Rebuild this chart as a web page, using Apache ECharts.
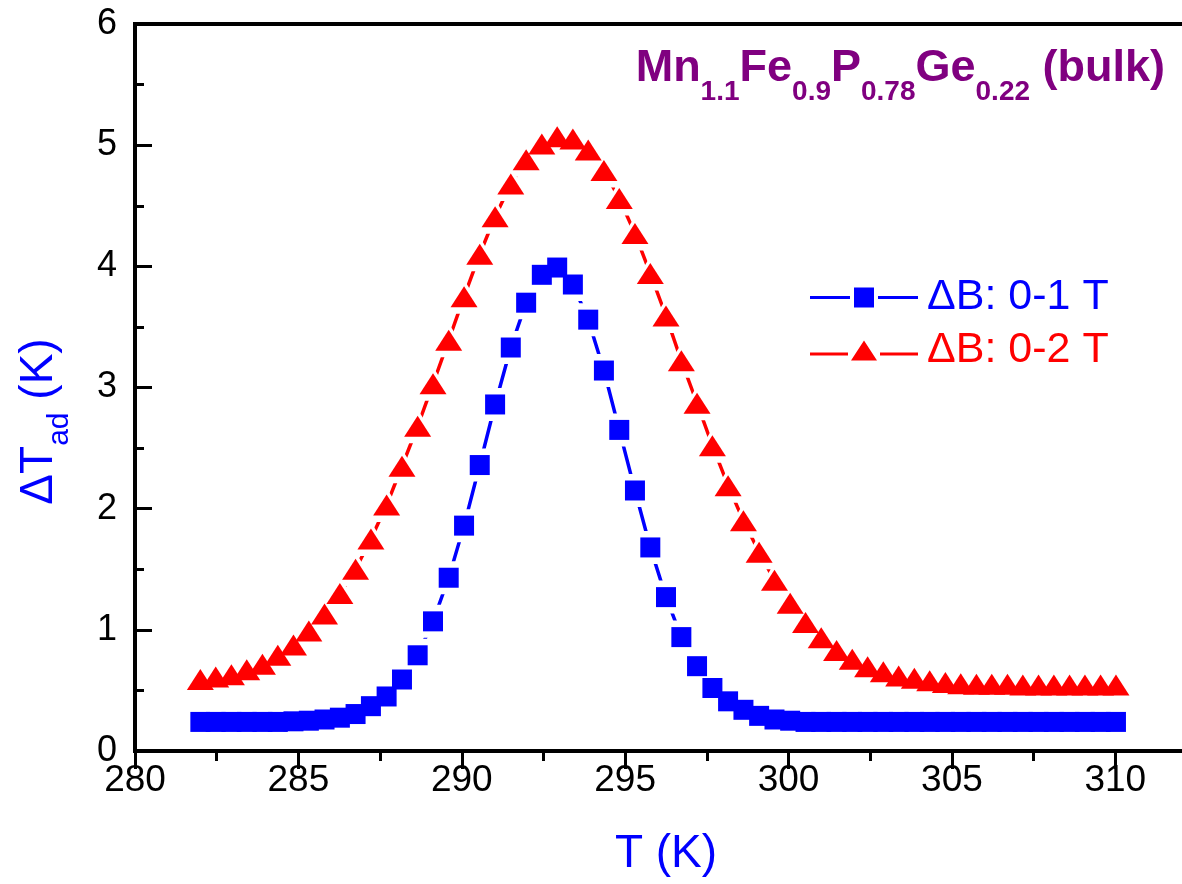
<!DOCTYPE html>
<html>
<head>
<meta charset="utf-8">
<script src="https://cdn.jsdelivr.net/npm/echarts@6/dist/echarts.min.js"></script>
<style>
  html, body { margin: 0; padding: 0; background: #ffffff; }
  #chart { width: 1182px; height: 884px; }
</style>
</head>
<body>
<div id="chart"></div>
<script>
// Sample temperature (K) for each measured point
const temperatures = [
  282.00, 282.47, 282.95, 283.42, 283.90, 284.37, 284.85, 285.32, 285.80, 286.27,
  286.75, 287.22, 287.70, 288.17, 288.65, 289.12, 289.60, 290.07, 290.55, 291.02,
  291.50, 291.97, 292.45, 292.92, 293.40, 293.87, 294.35, 294.82, 295.30, 295.77,
  296.25, 296.72, 297.20, 297.67, 298.15, 298.62, 299.10, 299.57, 300.05, 300.52,
  301.00, 301.47, 301.95, 302.42, 302.90, 303.37, 303.85, 304.32, 304.80, 305.27,
  305.75, 306.22, 306.70, 307.17, 307.65, 308.12, 308.60, 309.07, 309.55, 310.02
];

// Adiabatic temperature change (K) for a 0-1 T field change
const deltaT_0to1T = [
  0.24, 0.24, 0.24, 0.24, 0.24, 0.24, 0.245, 0.25, 0.26, 0.275,
  0.305, 0.37, 0.45, 0.59, 0.79, 1.07, 1.43, 1.86, 2.36, 2.86,
  3.33, 3.70, 3.93, 3.99, 3.85, 3.56, 3.14, 2.65, 2.15, 1.68,
  1.27, 0.94, 0.70, 0.52, 0.41, 0.34, 0.29, 0.26, 0.25, 0.24,
  0.24, 0.24, 0.24, 0.24, 0.24, 0.24, 0.24, 0.24, 0.24, 0.24,
  0.24, 0.24, 0.24, 0.24, 0.24, 0.24, 0.24, 0.24, 0.24, 0.24
];

// Adiabatic temperature change (K) for a 0-2 T field change
const deltaT_0to2T = [
  0.59, 0.61, 0.63, 0.67, 0.715, 0.79, 0.875, 0.99, 1.13, 1.30,
  1.50, 1.75, 2.03, 2.35, 2.68, 3.03, 3.39, 3.75, 4.10, 4.41,
  4.68, 4.88, 5.01, 5.07, 5.05, 4.96, 4.79, 4.56, 4.27, 3.94,
  3.59, 3.22, 2.87, 2.52, 2.19, 1.90, 1.64, 1.41, 1.22, 1.06,
  0.935, 0.83, 0.757, 0.696, 0.654, 0.62, 0.60, 0.58, 0.565, 0.555,
  0.55, 0.55, 0.55, 0.545, 0.545, 0.545, 0.545, 0.545, 0.545, 0.545
];

const seriesNames = ['\u0394B: 0-1 T', '\u0394B: 0-2 T'];
const sampleLabel = ['Mn', '1.1', 'Fe', '0.9', 'P', '0.78', 'Ge', '0.22', ' (bulk)'];

const BLUE = '#0000ff';
const RED = '#ff0000';
const PURPLE = '#800080';
const FONT = '"Liberation Sans", Arial, sans-serif';

const toPoints = ys => temperatures.map((t, i) => [t, ys[i]]);
const ptsA = toPoints(deltaT_0to1T);
const ptsB = toPoints(deltaT_0to2T);

// Formula text: even entries are element symbols, odd entries are subscripts
const titleText = sampleLabel.map((s, i) => (i % 2 === 1 ? '{s|' + s + '}' : '{m|' + s + '}')).join('');

const chart = echarts.init(document.getElementById('chart'), null, { renderer: 'canvas' });

chart.setOption({
  animation: false,
  backgroundColor: '#ffffff',
  textStyle: { fontFamily: FONT },
  title: {
    text: titleText,
    right: 12,
    top: 41,
    textStyle: {
      rich: {
        m: { fontSize: 45, fontWeight: 'bold', color: PURPLE, fontFamily: FONT, lineHeight: 52, verticalAlign: 'top' },
        s: { fontSize: 28, fontWeight: 'bold', color: PURPLE, fontFamily: FONT, verticalAlign: 'top', padding: [32, 0, 0, 0] }
      }
    }
  },
  legend: {
    orient: 'vertical',
    left: 805,
    top: 271,
    itemWidth: 108,
    itemHeight: 20,
    itemGap: 10,
    selectedMode: false,
    textStyle: { fontSize: 43, fontFamily: FONT, padding: [0, 0, 0, 4] },
    data: [
      { name: seriesNames[0], icon: 'path://M0 8.5H40V11.5H0Z M44 0H64V20H44Z M68 8.5H108V11.5H68Z', textStyle: { color: BLUE } },
      { name: seriesNames[1], icon: 'path://M0 12H38V15H0Z M41 20L54 0L67 20Z M70 12H108V15H70Z', textStyle: { color: RED } }
    ]
  },
  grid: {
    left: 135,
    top: 24,
    right: -15,
    bottom: 133,
    containLabel: false,
    outerBoundsMode: 'none',
    show: true,
    borderColor: '#000000',
    borderWidth: 4,
    backgroundColor: 'transparent'
  },
  xAxis: {
    type: 'value',
    min: 280,
    max: 312.5,
    interval: 5,
    name: 'T (K)',
    nameLocation: 'middle',
    nameGap: 80,
    nameTextStyle: { color: BLUE, fontSize: 46, fontFamily: FONT },
    axisLine: { show: true, onZero: false, lineStyle: { color: '#000', width: 4 } },
    axisTick: { show: true, inside: false, length: 18, lineStyle: { color: '#000', width: 3 } },
    minorTick: { show: true, splitNumber: 2, length: 10, lineStyle: { color: '#000', width: 3 } },
    axisLabel: { color: '#000', fontSize: 37, fontFamily: FONT, margin: 11, showMaxLabel: false },
    splitLine: { show: false }
  },
  yAxis: {
    type: 'value',
    min: 0,
    max: 6,
    interval: 1,
    name: '{a|\u0394T}{s|ad}{a| (K)}',
    nameLocation: 'middle',
    nameRotate: 90,
    nameGap: 60,
    nameTextStyle: {
      color: BLUE,
      padding: [0, 68, 0, 0],
      rich: {
        a: { fontSize: 46, color: BLUE, fontFamily: FONT, lineHeight: 54, verticalAlign: 'top' },
        s: { fontSize: 30, color: BLUE, fontFamily: FONT, verticalAlign: 'top', padding: [29, 0, 0, 0] }
      }
    },
    axisLine: { show: true, onZero: false, lineStyle: { color: '#000', width: 4 } },
    axisTick: { show: true, inside: true, length: 17, lineStyle: { color: '#000', width: 3 } },
    minorTick: { show: true, splitNumber: 2, length: 9, lineStyle: { color: '#000', width: 3 } },
    axisLabel: { color: '#000', fontSize: 36, fontFamily: FONT, margin: 18 },
    splitLine: { show: false }
  },
  series: [
    // connecting lines
    { name: seriesNames[0], type: 'line', data: ptsA, showSymbol: false, symbol: 'rect',
      lineStyle: { color: BLUE, width: 3.5 }, itemStyle: { color: BLUE }, z: 2, silent: true },
    { name: seriesNames[1], type: 'line', data: ptsB, showSymbol: false, symbol: 'triangle',
      lineStyle: { color: RED, width: 3.5 }, itemStyle: { color: RED }, z: 2, silent: true },
    // white halos that open a small gap in the lines around each marker
    { type: 'scatter', data: ptsA, symbol: 'rect', symbolSize: 33,
      itemStyle: { color: '#ffffff', opacity: 1 }, z: 3, silent: true },
    { type: 'scatter', data: ptsB, symbol: 'triangle', symbolSize: [42, 34],
      itemStyle: { color: '#ffffff', opacity: 1 }, z: 3, silent: true },
    // markers
    { type: 'scatter', data: ptsA, symbol: 'rect', symbolSize: 20,
      itemStyle: { color: BLUE, opacity: 1 }, z: 4, silent: true },
    { type: 'scatter', data: ptsB, symbol: 'triangle', symbolSize: [27, 21],
      itemStyle: { color: RED, opacity: 1 }, z: 4, silent: true }
  ]
});
</script>
</body>
</html>
